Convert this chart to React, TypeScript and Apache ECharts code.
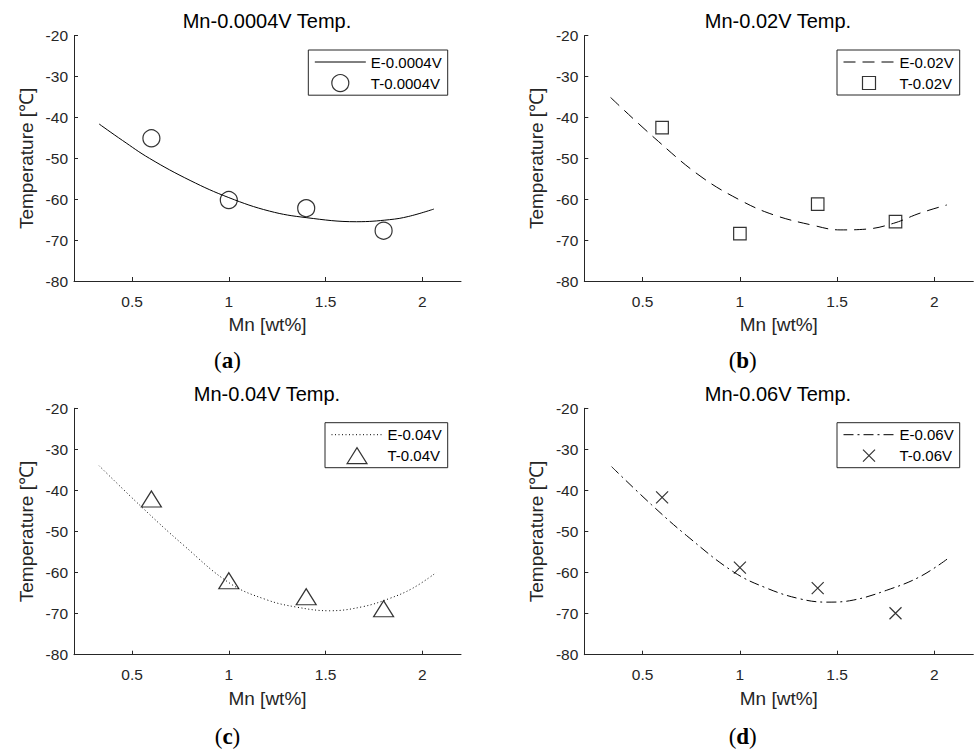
import React, { useEffect, useRef } from "react";
import * as echarts from "echarts";

// ---- data ----
const xTicks = [0.5, 1, 1.5, 2];
const mnPoints = [0.6, 1.0, 1.4, 1.8];

const tA = [-45.1, -60.2, -62.2, -67.7];
const tB = [-42.5, -68.4, -61.2, -65.5];
const tC = [-42.1, -62.0, -65.9, -68.8];
const tD = [-41.7, -58.8, -63.8, -69.9];

const eAx = [0.33, 0.45, 0.59, 0.8, 1.0, 1.21, 1.4, 1.66, 1.83, 1.93, 2.06];
const eAy = [-41.6, -45.6, -50.0, -55.4, -59.6, -62.9, -64.5, -65.5, -65.0, -64.2, -62.4];
const eBx = [0.335, 0.563, 0.795, 1.0, 1.172, 1.378, 1.515, 1.652, 1.789, 1.926, 2.064];
const eBy = [-35.1, -45.1, -54.3, -60.2, -63.8, -66.4, -67.5, -67.3, -65.9, -63.4, -61.4];
const eCx = [0.33, 0.549, 0.763, 1.005, 1.194, 1.349, 1.521, 1.693, 1.831, 1.951, 2.072];
const eCy = [-34.0, -44.0, -53.2, -62.6, -66.6, -68.4, -69.3, -68.3, -66.3, -63.8, -60.0];
const eDx = [0.34, 0.546, 0.726, 0.966, 1.138, 1.309, 1.447, 1.583, 1.755, 1.926, 2.072];
const eDy = [-34.2, -43.5, -51.0, -59.8, -63.8, -66.4, -67.2, -66.7, -64.3, -61.0, -56.5];

const titles = ["Mn-0.0004V Temp.", "Mn-0.02V Temp.", "Mn-0.04V Temp.", "Mn-0.06V Temp."];
const eNames = ["E-0.0004V", "E-0.02V", "E-0.04V", "E-0.06V"];
const tNames = ["T-0.0004V", "T-0.02V", "T-0.04V", "T-0.06V"];
const panelLetters = ["a", "b", "c", "d"];
const xName = "Mn [wt%]";
const yName = "Temperature [℃]";

const SANS = "'Liberation Sans', Arial, Helvetica, sans-serif";
const SERIF = "'Liberation Serif', 'Times New Roman', serif";
const AX = "#262626";

const grids = [
  { left: 74, top: 35.7, width: 387, height: 245.3 },
  { left: 584.3, top: 35.7, width: 389, height: 245.3 },
  { left: 74, top: 408.3, width: 387, height: 246.4 },
  { left: 584.3, top: 408.3, width: 389, height: 246.4 },
];

const curvesX = [eAx, eBx, eCx, eDx];
const curvesY = [eAy, eBy, eCy, eDy];
const tVals = [tA, tB, tC, tD];
const dashes: any[] = ["solid", [12, 7], [1, 2.5], [10, 4, 2, 4]];
const markers = [
  { symbol: "circle", size: 17, legendH: 17 },
  { symbol: "path://M0,0L10,0L10,10L0,10Z", size: 12.5, legendH: 13 },
  { symbol: "path://M0,16L10,0L20,16Z", size: [20, 16], legendH: 16 },
  { symbol: "path://M0,0L10,10M10,0L0,10", size: 12, legendH: 12 },
];

const titlePos = [
  [267, 21],
  [778, 21],
  [267, 394],
  [778, 394],
];
const letterPos = [
  [227.5, 360],
  [742.7, 360],
  [227.5, 736],
  [742.7, 736],
];
const legendPos = [
  { right: 526.3, top: 50 },
  { right: 14.3, top: 50 },
  { right: 526.3, top: 422.7 },
  { right: 14.3, top: 422.7 },
];

function buildOption() {
  const xAxis = grids.map((_, i) => ({
    type: "value",
    gridIndex: i,
    min: 0.2,
    max: 2.2,
    axisLine: { show: true, onZero: false, lineStyle: { color: AX, width: 1 } },
    axisTick: { show: true, inside: true, length: 4, customValues: xTicks, lineStyle: { color: AX } },
    axisLabel: {
      customValues: xTicks,
      formatter: (v: number) => String(v),
      margin: 12,
      fontSize: 15.5,
      color: AX,
      fontFamily: SANS,
    },
    splitLine: { show: false },
    name: xName,
    nameLocation: "middle",
    nameGap: 34,
    nameTextStyle: { fontSize: 19, color: AX, fontFamily: SANS },
  }));
  const yAxis = grids.map((_, i) => ({
    type: "value",
    gridIndex: i,
    min: -80,
    max: -20,
    interval: 10,
    axisLine: { show: true, onZero: false, lineStyle: { color: AX, width: 1 } },
    axisTick: { show: true, inside: true, length: 4, lineStyle: { color: AX } },
    axisLabel: { margin: 6, fontSize: 15.5, color: AX, fontFamily: SANS },
    splitLine: { show: false },
    name: yName,
    nameLocation: "middle",
    nameGap: 38,
    nameTextStyle: { fontSize: 19, color: AX, fontFamily: SANS },
  }));

  const series: any[] = [];
  for (let i = 0; i < 4; i++) {
    series.push({
      type: "line",
      name: eNames[i],
      xAxisIndex: i,
      yAxisIndex: i,
      data: curvesX[i].map((x, k) => [x, curvesY[i][k]]),
      symbol: "none",
      smooth: 0.4,
      lineStyle: { color: "#000", width: 1, type: dashes[i] },
      itemStyle: { color: "#000" },
      z: 2,
    });
    series.push({
      type: "scatter",
      name: tNames[i],
      xAxisIndex: i,
      yAxisIndex: i,
      data: mnPoints.map((x, k) => [x, tVals[i][k]]),
      symbol: markers[i].symbol,
      symbolSize: markers[i].size,
      itemStyle: { color: "transparent", borderColor: "#000", borderWidth: 1.2 },
      z: 3,
    });
  }

  const legend = grids.map((_, i) => ({
    orient: "vertical",
    right: legendPos[i].right,
    top: legendPos[i].top,
    data: [
      { name: eNames[i], itemStyle: { opacity: 0, color: "transparent", borderColor: "transparent" } },
      { name: tNames[i] },
    ],
    itemWidth: 51,
    itemHeight: markers[i].legendH,
    itemGap: 3,
    itemTextGap: 3,
    padding: [3, 6, 3, 6],
    borderColor: AX,
    borderWidth: 1,
    borderRadius: 0,
    backgroundColor: "#fff",
    selectedMode: false,
    textStyle: { fontSize: 15, color: "#000", fontFamily: SANS, lineHeight: 18 },
    lineStyle: { width: 1 },
    itemStyle: { borderWidth: 1.2 },
  }));

  const graphic: any[] = [];
  for (let i = 0; i < 4; i++) {
    graphic.push({
      type: "text",
      x: titlePos[i][0],
      y: titlePos[i][1],
      style: {
        text: titles[i],
        fontSize: 20,
        fontFamily: SANS,
        fill: "#000",
        align: "center",
        verticalAlign: "middle",
      },
    });
    graphic.push({
      type: "text",
      x: letterPos[i][0],
      y: letterPos[i][1],
      style: {
        text: "{p|(}{b|" + panelLetters[i] + "}{p|)}",
        align: "center",
        verticalAlign: "middle",
        rich: {
          p: { fontSize: 23, fontFamily: SERIF, fill: "#000" },
          b: { fontSize: 23, fontFamily: SERIF, fontWeight: "bold", fill: "#000" },
        },
      },
    });
  }

  return {
    animation: false,
    backgroundColor: "#fff",
    grid: grids.map((g) => ({ ...g, containLabel: false })),
    xAxis,
    yAxis,
    legend,
    series,
    graphic,
  };
}

export default function App() {
  const ref = useRef<HTMLDivElement>(null);
  useEffect(() => {
    if (!ref.current) return;
    const chart = echarts.init(ref.current, undefined, { renderer: "svg" });
    chart.setOption(buildOption() as any);
    return () => chart.dispose();
  }, []);
  return (
    <div
      ref={ref}
      style={{ position: "absolute", left: 0, top: 0, width: 974, height: 753, background: "#fff" }}
    />
  );
}
